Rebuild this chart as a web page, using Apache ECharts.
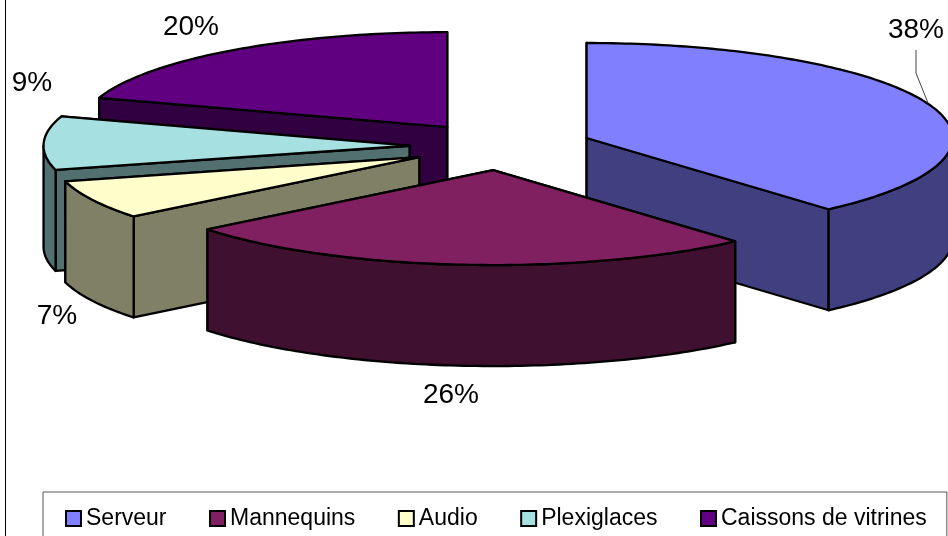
<!DOCTYPE html>
<html>
<head>
<meta charset="utf-8">
<style>html,body{margin:0;padding:0;background:#fff;overflow:hidden}#c{width:948px;height:536px}</style>
<script src="https://cdn.jsdelivr.net/npm/echarts@6/dist/echarts.min.js"></script>
</head>
<body>
<div id="c"></div>
<script>
const categories = ['Serveur', 'Mannequins', 'Audio', 'Plexiglaces', 'Caissons de vitrines'];
const values = [38.5, 25.75, 6.65, 9.1, 20.0];
const percentLabels = ['38%', '26%', '7%', '9%', '20%'];

const topColors = ['#8080FF', '#802060', '#FFFFCC', '#A6E0E0', '#600080'];
const wallColors = ['#404080', '#401030', '#808066', '#537070', '#300040'];
const paintOrder = [4, 5, 3, 2, 1];
const labelAnchors = [[916, 30], [451, 395], [57, 316], [32, 83], [191, 27]];

const GEO = { cx: 501, cy: 146.4, rx: 366, ry: 95, depth: 101, explode: 0.25 };
const total = values.reduce((a, b) => a + b, 0);
const rad = d => d * Math.PI / 180;

function sliceGeometry(i) {
  const before = values.slice(0, i).reduce((a, b) => a + b, 0);
  const start = before / total * 360;
  const end = (before + values[i]) / total * 360;
  const mid = rad((start + end) / 2);
  const ax = GEO.cx + GEO.explode * GEO.rx * Math.sin(mid);
  const ay = GEO.cy - GEO.explode * GEO.ry * Math.cos(mid);
  const rim = d => [ax + GEO.rx * Math.sin(rad(d)), ay - GEO.ry * Math.cos(rad(d))];
  return { start, end, ax, ay, rim };
}
function arcPoints(rim, a, b) {
  const pts = [];
  for (let d = a; d < b; d += 1) pts.push(rim(d));
  pts.push(rim(b));
  return pts;
}
const lower = (pts, h) => pts.map(p => [p[0], p[1] + h]);
const LINE = { stroke: '#000', lineWidth: 2.3, lineJoin: 'round' };

function makeRender(i) {
  return function () {
    const g = sliceGeometry(i);
    const apex = [g.ax, g.ay];
    const children = [];
    const wall = pts => children.push({
      type: 'polygon', shape: { points: pts },
      style: Object.assign({ fill: wallColors[i] }, LINE)
    });
    // far radial wall first, nearer one over it
    [g.start, g.end]
      .map(d => g.rim(d))
      .sort((p, q) => p[1] - q[1])
      .forEach(p => wall([apex, p, [p[0], p[1] + GEO.depth], [apex[0], apex[1] + GEO.depth]]));
    const a = Math.max(g.start, 90), b = Math.min(g.end, 270);
    if (b > a) {
      const arc = arcPoints(g.rim, a, b);
      wall(arc.concat(lower(arc, GEO.depth).reverse()));
    }
    children.push({
      type: 'polygon',
      shape: { points: [apex].concat(arcPoints(g.rim, g.start, g.end)) },
      style: Object.assign({ fill: topColors[i] }, LINE)
    });
    children.push({
      type: 'text',
      x: labelAnchors[i][0], y: labelAnchors[i][1],
      style: {
        text: percentLabels[i], fill: '#000',
        font: '28px "Liberation Sans", Arial, sans-serif',
        textAlign: 'center', textVerticalAlign: 'middle'
      }
    });
    if (i === 0) {
      children.push({
        type: 'polyline',
        shape: { points: [[916, 50], [916, 73], [928, 103]] },
        style: { stroke: '#444', lineWidth: 1, fill: null }
      });
    }
    return { type: 'group', children };
  };
}

const chart = echarts.init(document.getElementById('c'), null, { renderer: 'canvas' });
chart.setOption({
  animation: false,
  backgroundColor: '#fff',
  graphic: [{
    type: 'rect', z: 0, silent: true,
    shape: { x: 5.5, y: -10, width: 2000, height: 2000 },
    style: { fill: null, stroke: '#000', lineWidth: 1 }
  }],
  legend: {
    left: 43, top: 492,
    width: 870,
    padding: [15, 20, 15, 22],
    orient: 'horizontal',
    itemWidth: 15, itemHeight: 15, itemGap: 42.5,
    borderColor: '#555', borderWidth: 1,
    backgroundColor: '#fff',
    data: categories,
    icon: 'rect',
    itemStyle: { borderColor: '#000', borderWidth: 2 },
    textStyle: { fontFamily: '"Liberation Sans", Arial, sans-serif', fontSize: 23, color: '#000', padding: [3, 0, 0, 0] }
  },
  series: categories.map((name, i) => ({
    type: 'custom',
    name,
    coordinateSystem: 'none',
    z: paintOrder[i],
    itemStyle: { color: topColors[i] },
    data: [[values[i]]],
    renderItem: makeRender(i),
    silent: true
  }))
});
</script>
</body>
</html>
